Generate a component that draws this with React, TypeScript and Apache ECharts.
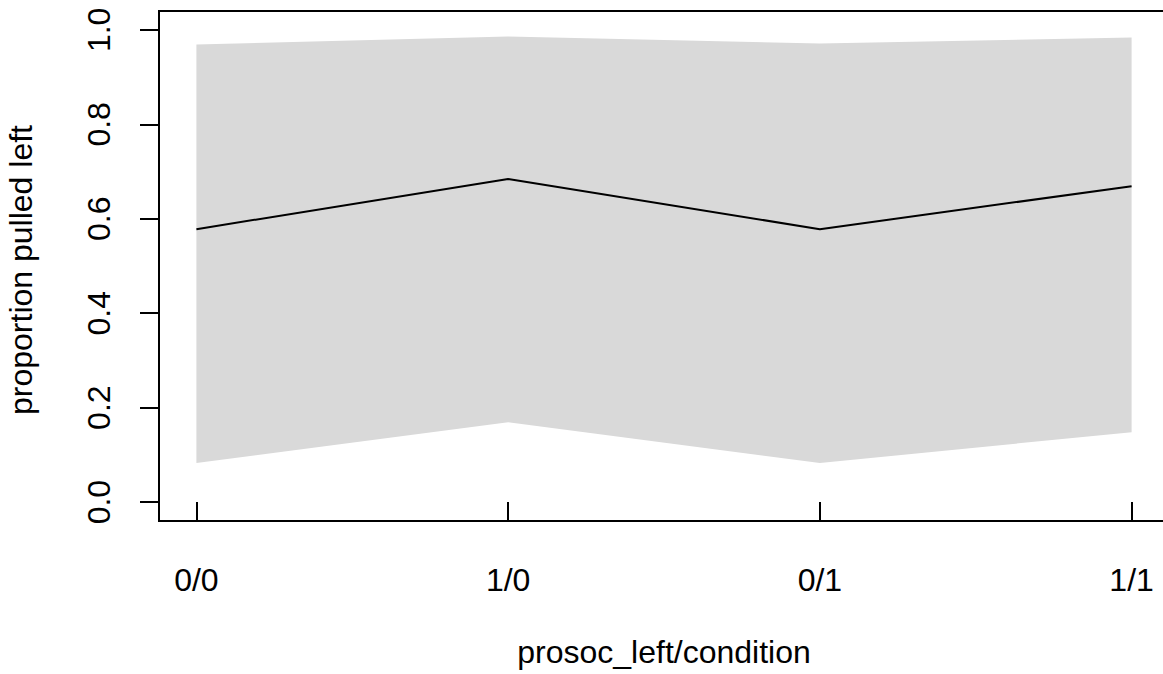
import React, { useEffect, useRef } from "react";
import * as echarts from "echarts";

const categories = ["0/0", "1/0", "0/1", "1/1"];
const meanValues = [0.578, 0.684, 0.578, 0.669];
const lowerValues = [0.083, 0.169, 0.083, 0.148];
const upperValues = [0.969, 0.986, 0.971, 0.984];
const yTicks = [0, 0.2, 0.4, 0.6, 0.8, 1.0];
const yTickLabels = ["0.0", "0.2", "0.4", "0.6", "0.8", "1.0"];

const FONT = "'Liberation Sans', Arial, Helvetica, sans-serif";
const FS = 32;

export default function App() {
  const ref = useRef<HTMLDivElement>(null);
  useEffect(() => {
    if (!ref.current) return;
    const chart = echarts.init(ref.current, null, { renderer: "svg" });
    const xs = categories.map((_, i) => i + 1);
    chart.setOption({
      animation: false,
      backgroundColor: "#ffffff",
      grid: {
        left: 159,
        top: 11,
        width: 1010,
        height: 510,
        containLabel: false,
        outerBoundsMode: "none",
        show: true,
        borderColor: "#000000",
        borderWidth: 2,
        backgroundColor: "transparent",
      },
      xAxis: {
        type: "value",
        min: 0.88,
        max: 4.12,
        name: "prosoc_left/condition",
        nameLocation: "middle",
        nameGap: 115,
        nameTextStyle: { fontFamily: FONT, fontSize: FS, color: "#000" },
        axisLine: { show: false },
        splitLine: { show: false },
        axisTick: {
          show: true,
          length: 20,
          lineStyle: { color: "#000", width: 2 },
          customValues: xs,
        },
        axisLabel: {
          customValues: xs,
          margin: 43,
          fontFamily: FONT,
          fontSize: FS,
          color: "#000",
          formatter: (v: number) => categories[Math.round(v) - 1] ?? "",
        },
      },
      yAxis: {
        type: "value",
        min: -0.04,
        max: 1.04,
        name: "proportion pulled left",
        nameLocation: "middle",
        nameGap: 122,
        nameRotate: 90,
        nameTextStyle: {
          fontFamily: FONT,
          fontSize: FS,
          color: "#000",
          padding: [0, 8, 0, 0],
        },
        axisLine: { show: false },
        splitLine: { show: false },
        axisTick: {
          show: true,
          length: 19,
          lineStyle: { color: "#000", width: 2 },
          customValues: yTicks,
        },
        axisLabel: {
          customValues: yTicks,
          rotate: 90,
          align: "center",
          verticalAlign: "bottom",
          margin: 44,
          fontFamily: FONT,
          fontSize: FS,
          color: "#000",
          formatter: (v: number) => {
            const idx = yTicks.findIndex((t) => Math.abs(t - v) < 1e-6);
            return idx >= 0 ? yTickLabels[idx] : "";
          },
        },
      },
      series: [
        {
          type: "custom",
          silent: true,
          z: 1,
          data: xs.map((x, i) => [x, lowerValues[i], upperValues[i]]),
          renderItem: (params: any, api: any) => {
            if (params.dataIndex !== 0) return null;
            const top = xs.map((x, i) => api.coord([x, upperValues[i]]));
            const bottom = xs
              .map((x, i) => api.coord([x, lowerValues[i]]))
              .reverse();
            return {
              type: "polygon",
              shape: { points: top.concat(bottom) },
              style: { fill: "#d9d9d9", stroke: "none" },
            };
          },
        },
        {
          type: "line",
          data: xs.map((x, i) => [x, meanValues[i]]),
          symbol: "none",
          lineStyle: { color: "#000000", width: 2 },
          z: 3,
        },
      ],
    });
    return () => chart.dispose();
  }, []);
  return (
    <div
      ref={ref}
      style={{ position: "fixed", left: 0, top: 0, width: 1163, height: 674 }}
    />
  );
}
